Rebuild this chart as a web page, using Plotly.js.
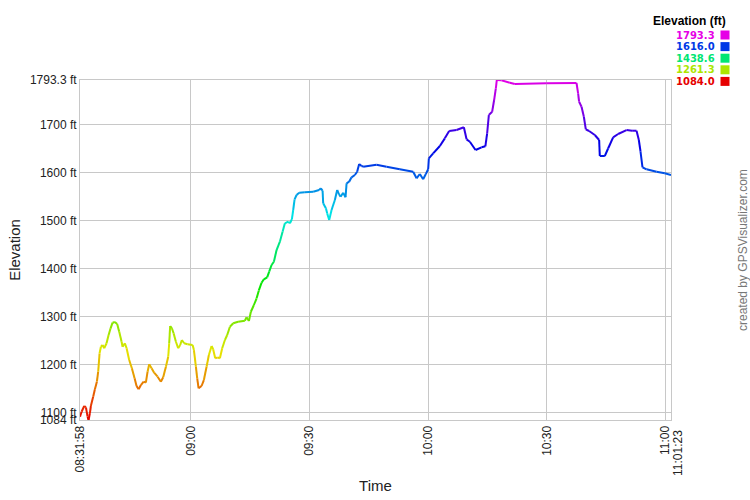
<!DOCTYPE html>
<html>
<head>
<meta charset="utf-8">
<script src="https://cdn.plot.ly/plotly-3.0.1.min.js"></script>
<style>
html,body{margin:0;padding:0;background:#fff;}
#chart{width:750px;height:500px;}
</style>
</head>
<body>
<div id="chart"></div>
<script>
// ---- Data ----
const times = [
"08:31:58","08:32:22","08:33:02","08:33:28","08:33:53","08:34:08","08:34:28","08:34:43","08:35:18","08:35:44",
"08:36:14","08:36:34","08:36:55","08:37:15","08:37:41","08:38:05","08:38:41","08:39:12","08:39:42","08:40:12",
"08:40:47","08:41:22","08:41:53","08:42:29","08:42:44","08:43:19","08:43:45","08:44:24","08:45:05","08:45:46",
"08:46:16","08:46:47","08:47:22","08:48:03","08:48:37","08:49:03","08:49:28","08:50:04","08:50:43","08:51:35",
"08:52:25","08:53:00","08:53:41","08:54:16","08:54:31","08:54:46","08:55:12","08:55:38","08:56:13","08:56:47",
"08:57:18","08:57:43","08:58:18","08:59:10","09:00:26","09:00:46","09:01:16","09:01:36","09:01:57","09:02:42",
"09:03:17","09:03:58","09:04:33","09:05:14","09:05:38","09:06:09","09:06:45","09:07:20","09:07:55","09:08:36",
"09:09:11","09:09:52","09:10:42","09:11:57","09:13:39","09:14:05","09:14:40","09:15:10","09:15:56","09:16:37",
"09:17:11","09:17:52","09:18:27","09:19:17","09:19:48","09:20:24","09:20:59","09:21:40","09:22:30","09:23:11",
"09:23:46","09:24:36","09:25:02","09:25:32","09:25:52","09:26:13","09:26:43","09:27:23","09:28:49","09:30:55",
"09:32:26","09:32:52","09:33:18","09:33:27","09:34:08","09:34:27","09:34:58","09:35:34","09:36:24","09:36:59",
"09:37:25","09:37:51","09:38:30","09:39:06","09:39:22","09:40:01","09:40:37","09:41:27","09:42:02","09:42:33",
"09:43:09","09:43:33","09:46:56","09:49:28","09:52:50","09:56:12","09:57:03","09:57:53","09:58:43","09:59:24",
"09:59:59","10:00:10","10:01:15","10:02:57","10:04:12","10:05:18","10:07:10","10:09:01","10:09:42","10:10:32",
"10:11:58","10:13:29","10:14:27","10:14:54","10:15:20","10:16:10","10:16:40","10:17:06","10:17:21","10:18:32",
"10:20:38","10:21:54","10:29:55","10:37:30","10:37:54","10:38:09","10:38:46","10:39:21","10:39:51","10:40:41",
"10:42:07","10:43:13","10:43:23","10:44:39","10:45:29","10:46:45","10:48:01","10:50:08","10:51:33","10:52:40",
"10:53:15","10:53:41","10:54:11","10:55:12","10:57:43","10:59:49","11:01:23"
];
const elevation = [
1090.9,1101.3,1113.2,1110.5,1090.9,1084.0,1098.0,1113.2,1132.6,1148.0,
1163.9,1184.8,1223.1,1236.9,1240.5,1233.6,1244.0,1261.3,1275.3,1287.0,
1288.4,1284.3,1268.2,1247.3,1236.9,1244.0,1233.6,1209.2,1191.9,1171.0,
1154.9,1148.0,1157.0,1163.9,1161.8,1184.8,1200.2,1191.9,1182.7,1174.3,
1163.9,1173.1,1195.2,1216.0,1244.0,1280.1,1275.3,1264.9,1247.3,1233.6,
1240.5,1250.9,1244.0,1241.9,1240.5,1230.0,1195.2,1171.0,1150.1,1154.9,
1167.4,1195.2,1219.6,1238.4,1231.5,1212.7,1214.8,1212.7,1233.6,1250.9,
1261.3,1278.6,1285.7,1289.1,1291.1,1298.2,1290.5,1309.9,1323.9,1337.9,
1354.3,1370.4,1377.5,1381.7,1393.4,1407.3,1414.2,1438.6,1455.9,1476.8,
1494.3,1497.7,1494.3,1502.7,1522.1,1544.4,1553.4,1558.2,1559.0,1560.3,
1563.8,1567.3,1562.3,1536.0,1525.6,1515.2,1501.2,1522.1,1542.9,1563.8,
1555.4,1549.8,1558.2,1548.6,1577.8,1581.1,1590.3,1595.1,1602.0,1618.0,
1613.9,1612.4,1616.6,1612.4,1607.0,1602.0,1588.2,1597.2,1586.1,1597.2,
1607.0,1629.9,1640.3,1655.6,1671.6,1686.9,1688.9,1694.6,1669.5,1664.5,
1647.2,1652.9,1655.0,1682.1,1720.2,1727.1,1751.5,1775.9,1793.3,1792.6,
1787.6,1784.9,1786.4,1787.0,1765.5,1748.0,1737.6,1716.7,1690.4,1686.9,
1678.5,1668.1,1634.7,1634.7,1650.4,1673.7,1680.6,1688.9,1687.5,1687.5,
1668.1,1643.7,1611.2,1607.0,1602.0,1598.7,1595.0
];
const yTickVals = [1084, 1100, 1200, 1300, 1400, 1500, 1600, 1700, 1793.3];
const yTickText = ["1084 ft","1100 ft","1200 ft","1300 ft","1400 ft","1500 ft","1600 ft","1700 ft","1793.3 ft"];
const xTickVals = ["08:31:58","09:00:00","09:30:00","10:00:00","10:30:00","11:00:00","11:01:23"];
const xTickText = ["08:31:58","09:00","09:30","10:00","10:30","11:00","11:01:23"];
const legendValues = [1793.3, 1616.0, 1438.6, 1261.3, 1084.0];

// ---- helpers ----
const DAY = "2024-01-01 ";
const eMin = 1084.0, eMax = 1793.3;
function hsvColor(h){ // s=1, v=0.9
  const v = 0.9, c = v;
  const hp = h/60, x = c*(1-Math.abs(hp%2-1));
  let r=0,g=0,b=0;
  if(hp<1){r=c;g=x;} else if(hp<2){r=x;g=c;} else if(hp<3){g=c;b=x;}
  else if(hp<4){g=x;b=c;} else if(hp<5){r=x;b=c;} else {r=c;b=x;}
  const t = n => Math.round(n*255);
  return `rgb(${t(r)},${t(g)},${t(b)})`;
}
function colorFor(e){
  const f = Math.max(0, Math.min(1, (e-eMin)/(eMax-eMin)));
  return hsvColor(300*f);
}

const traces = [];
for(let i=0;i<times.length-1;i++){
  traces.push({
    type:"scatter", mode:"lines",
    x:[DAY+times[i], DAY+times[i+1]],
    y:[elevation[i], elevation[i+1]],
    line:{color:colorFor((elevation[i]+elevation[i+1])/2), width:2},
    hoverinfo:"skip", showlegend:false
  });
}

const FONT = "Liberation Sans, Arial, sans-serif";
const LFONT = "DejaVu Sans, Verdana, sans-serif";
const PW = 591, PH = 340, PL = 80, PB = 420;
const px = x => (x-PL)/PW;
const py = y => (PB-y)/PH;

// last tick label is drawn beside the 11:00 one, as in the reference
const lastIdx = xTickText.length-1;
const tickTextShown = xTickText.map((t,i)=> i===lastIdx ? "" : t);

const annotations = [
  {xref:"paper", yref:"paper", x:px(727), y:py(21.5), xanchor:"right", yanchor:"middle",
   text:"<b>Elevation (ft)</b>", showarrow:false, borderpad:0,
   font:{family:FONT, size:12, color:"#000"}},
  {xref:"paper", yref:"paper", x:px(743), y:py(250), xanchor:"center", yanchor:"middle",
   text:"created by GPSVisualizer.com", textangle:-90, showarrow:false,
   font:{family:FONT, size:12, color:"#777"}},
  {xref:"paper", yref:"paper", x:px(678), y:py(428), xanchor:"center", yanchor:"top",
   text:xTickText[lastIdx], textangle:-90, showarrow:false,
   font:{family:FONT, size:12, color:"#222"}}
];
const shapes = [];
const rowY = [35, 46.6, 58.2, 69.8, 81.4];
legendValues.forEach((v,k)=>{
  const c = colorFor(v);
  annotations.push({xref:"paper", yref:"paper", x:px(716), y:py(rowY[k]),
    xanchor:"right", yanchor:"middle", text:"<b>"+v.toFixed(1)+"</b>", showarrow:false,
    borderpad:0, font:{family:LFONT, size:10, color:c}});
  shapes.push({type:"rect", xref:"paper", yref:"paper",
    x0:px(720.5), x1:px(729.5),
    y0:py(rowY[k]-4.5), y1:py(rowY[k]+4.5),
    fillcolor:c, line:{width:0}});
});

const layout = {
  width:750, height:500,
  margin:{l:80, r:79, t:80, b:80},
  paper_bgcolor:"#fff", plot_bgcolor:"#fff",
  font:{family:FONT, size:12, color:"#222"},
  showlegend:false,
  xaxis:{
    type:"date",
    range:[DAY+times[0], DAY+times[times.length-1]],
    tickmode:"array", tickvals:xTickVals.map(t=>DAY+t), ticktext:tickTextShown,
    tickangle:-90, ticks:"", showgrid:true, gridcolor:"#c8c8c8", gridwidth:1,
    showline:true, linecolor:"#c8c8c8", linewidth:1, mirror:true, zeroline:false,
    tickfont:{family:FONT, size:12, color:"#222"},
    title:{text:"Time", font:{family:FONT, size:15, color:"#222"}, standoff:8}
  },
  yaxis:{
    range:[eMin, eMax],
    tickmode:"array", tickvals:yTickVals, ticktext:yTickText,
    ticks:"", showgrid:true, gridcolor:"#c8c8c8", gridwidth:1,
    showline:true, linecolor:"#c8c8c8", linewidth:1, mirror:true, zeroline:false,
    tickfont:{family:FONT, size:12, color:"#222"},
    title:{text:"Elevation", font:{family:FONT, size:15, color:"#222"}, standoff:5}
  },
  annotations:annotations,
  shapes:shapes
};

Plotly.newPlot("chart", traces, layout, {staticPlot:true, displayModeBar:false});
</script>
</body>
</html>
